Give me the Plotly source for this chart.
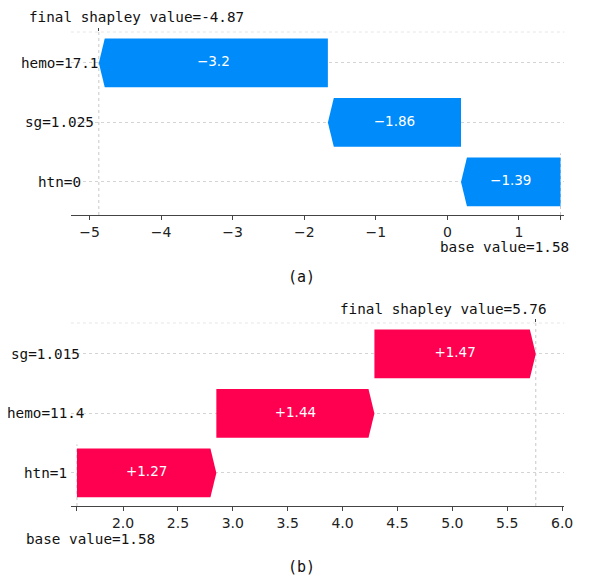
import plotly.graph_objects as go

# ---------------- data ----------------
a_features = ["htn=0", "sg=1.025", "hemo=17.1"]      # bottom -> top
a_values = [-1.39, -1.86, -3.2]
a_base = 1.58
a_final = -4.87
a_ticks = [-5, -4, -3, -2, -1, 0, 1]
a_tick_labels = ["−5", "−4", "−3", "−2", "−1", "0", "1"]
a_xrange = [-5.26, 1.633]

b_features = ["htn=1", "hemo=11.4", "sg=1.015"]      # bottom -> top
b_values = [1.27, 1.44, 1.47]
b_base = 1.58
b_final = 5.76
b_ticks = [2.0, 2.5, 3.0, 3.5, 4.0, 4.5, 5.0, 5.5, 6.0]
b_tick_labels = ["2.0", "2.5", "3.0", "3.5", "4.0", "4.5", "5.0", "5.5", "6.0"]
b_xrange = [1.525, 6.02]

captions = ["(a)", "(b)"]

# ---------------- style ----------------
BLUE = "#008bfb"
PINK = "#ff0051"
W, H = 593, 577
MONO = "DejaVu Sans Mono"
SANS = "DejaVu Sans"
YRANGE = [-0.555, 2.52]
HALF = 0.41


def px(y):
    return 1 - y / H


fig = go.Figure()

panels = [
    dict(feat=a_features, vals=a_values, base=a_base, final=a_final, ticks=a_ticks,
         tlabels=a_tick_labels, xr=a_xrange, xa="x", ya="y", xtop="x3",
         dom=[px(215), px(32)], label_x=60, fin_y=17, fin_anchor="left", fin_shift=-72,
         base_y=247, base_anchor="right", base_shift=10, cap_y=277),
    dict(feat=b_features, vals=b_values, base=b_base, final=b_final, ticks=b_ticks,
         tlabels=b_tick_labels, xr=b_xrange, xa="x2", ya="y2", xtop="x4",
         dom=[px(506), px(323)], label_x=46, fin_y=309, fin_anchor="right", fin_shift=13,
         base_y=539, base_anchor="left", base_shift=-53, cap_y=567),
]

annotations = []
shapes = []

for k, p in enumerate(panels):
    head = 0.012 * (p["xr"][1] - p["xr"][0])
    start = p["base"]
    tx, ty, tt = [], [], []
    for i, v in enumerate(p["vals"]):
        end = start + v
        color = PINK if v > 0 else BLUE
        hl = min(abs(v), head) * (1 if v > 0 else -1)
        xs = [start, end - hl, end, end - hl, start, start]
        ys = [i - HALF, i - HALF, i, i + HALF, i + HALF, i - HALF]
        fig.add_trace(go.Scatter(x=xs, y=ys, fill="toself", fillcolor=color,
                                 mode="lines", line=dict(width=0, color=color),
                                 xaxis=p["xa"], yaxis=p["ya"], showlegend=False,
                                 hoverinfo="skip"))
        tx.append((start + end) / 2)
        ty.append(i)
        tt.append(("+" if v > 0 else "−") + f"{abs(v):g}")
        start = end
    fig.add_trace(go.Scatter(x=tx, y=ty, text=tt, mode="text",
                             textfont=dict(family=SANS, size=13.5, color="white"),
                             xaxis=p["xa"], yaxis=p["ya"], showlegend=False,
                             hoverinfo="skip"))
    # invisible trace for top twin axis
    fig.add_trace(go.Scatter(x=[p["final"]], y=[0], mode="markers",
                             marker=dict(opacity=0), xaxis=p["xtop"], yaxis=p["ya"],
                             showlegend=False, hoverinfo="skip"))

    # feature labels
    for i, f in enumerate(p["feat"]):
        annotations.append(dict(x=p["label_x"] / W, xref="paper", y=i, yref=p["ya"],
                                text=f, showarrow=False, xanchor="center",
                                font=dict(family=MONO, size=14.3, color="#111")))
    # final value text
    annotations.append(dict(x=p["final"], xref=p["xa"], y=px(p["fin_y"]), yref="paper",
                            text=f"final shapley value={p['final']:g}", showarrow=False,
                            xanchor=p["fin_anchor"], xshift=p["fin_shift"],
                            yanchor="middle",
                            font=dict(family=MONO, size=14.3, color="#111")))
    # base value text
    annotations.append(dict(x=p["base"], xref=p["xa"], y=px(p["base_y"]), yref="paper",
                            text=f"base value={p['base']:g}", showarrow=False,
                            xanchor=p["base_anchor"], xshift=p["base_shift"],
                            yanchor="middle",
                            font=dict(family=MONO, size=14.3, color="#111")))
    # caption
    annotations.append(dict(x=306 / W, xref="paper", y=px(p["cap_y"]), yref="paper",
                            text=captions[k], showarrow=False, xanchor="center",
                            yanchor="middle",
                            font=dict(family=MONO, size=15, color="#111")))

    # vertical line at final value
    shapes.append(dict(type="line", xref=p["xa"], yref=p["ya"] + " domain",
                       x0=p["final"], x1=p["final"], y0=0, y1=1.01,
                       line=dict(color="#c8c8c8", width=1, dash="dot"), layer="below"))
    # vertical line at base value
    shapes.append(dict(type="line", xref=p["xa"], yref=p["ya"],
                       x0=p["base"], x1=p["base"], y0=YRANGE[0], y1=0.48,
                       line=dict(color="#c8c8c8", width=1, dash="dot"), layer="below"))
    # faint top line
    shapes.append(dict(type="line", xref=p["xa"] + " domain", yref=p["ya"] + " domain",
                       x0=0, x1=1, y0=1, y1=1,
                       line=dict(color="#e6e6e6", width=1, dash="dot"), layer="below"))

xdom = [72 / W, 573 / W]


def xaxis(p):
    return dict(domain=xdom, range=p["xr"], anchor=p["ya"],
                tickvals=p["ticks"] + [p["base"]], ticktext=p["tlabels"] + [""],
                showline=True, linecolor="#444", linewidth=1,
                ticks="outside", ticklen=4, tickwidth=1, tickcolor="#444",
                tickfont=dict(family=SANS, size=14, color="#222"),
                showgrid=False, zeroline=False, fixedrange=True)


def xtop(p, over):
    return dict(domain=xdom, range=p["xr"], overlaying=over, side="top",
                anchor=p["ya"], tickvals=[p["final"]], ticktext=[""],
                showline=False, ticks="outside", ticklen=3, tickwidth=1,
                tickcolor="#444", showgrid=False, zeroline=False, showticklabels=False)


def yaxis(p):
    return dict(domain=p["dom"], range=YRANGE, anchor=p["xa"],
                tickvals=[0, 1, 2], showticklabels=False, ticks="",
                showgrid=True, gridcolor="#d4d4d4", gridwidth=1, griddash="dot",
                showline=False, zeroline=False, fixedrange=True)


fig.update_layout(
    width=W, height=H,
    margin=dict(l=0, r=0, t=0, b=0),
    paper_bgcolor="white", plot_bgcolor="white",
    xaxis=xaxis(panels[0]), yaxis=yaxis(panels[0]),
    xaxis2=xaxis(panels[1]), yaxis2=yaxis(panels[1]),
    xaxis3=xtop(panels[0], "x"), xaxis4=xtop(panels[1], "x2"),
    annotations=annotations, shapes=shapes,
    showlegend=False,
)

fig.write_html("out.html", config={"displayModeBar": False},
               post_script="document.body.style.margin='0';document.body.style.overflow='hidden';")
